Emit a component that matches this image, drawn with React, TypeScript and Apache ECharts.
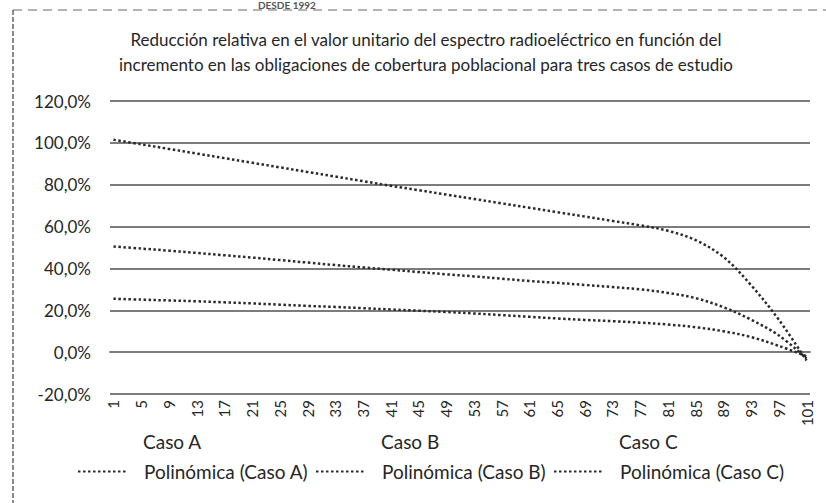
import React, { useEffect, useRef } from "react";
import * as echarts from "echarts";

const TITLE_LINES = [
  "Reducción relativa en el valor unitario del espectro radioeléctrico en función del",
  "incremento en las obligaciones de cobertura poblacional para tres casos de estudio",
];

// categories 1..101
const categories: string[] = Array.from({ length: 101 }, (_, i) => String(i + 1));

// points at the labelled categories
const readAt: number[] = [1, 5, 9, 13, 17, 21, 25, 29, 33, 37, 41, 45, 49, 53, 57, 61, 65, 69, 73, 77, 81, 85, 89, 93, 97, 101];

const polyA: number[] = [101.5, 99.3, 97.1, 94.9, 92.7, 90.5, 88.3, 86.1, 83.9, 81.7, 79.5, 77.4, 75.3, 73.2, 71.1, 69.0, 66.9, 64.8, 62.7, 60.6, 58.0, 53.5, 45.5, 32.0, 15.5, -4.0];
const polyB: number[] = [50.5, 49.5, 48.5, 47.4, 46.3, 45.2, 44.0, 42.8, 41.6, 40.5, 39.4, 38.3, 37.2, 36.2, 35.1, 34.0, 33.1, 32.1, 31.1, 30.0, 28.3, 25.8, 21.5, 15.5, 8.0, -3.0];
const polyC: number[] = [25.5, 25.1, 24.7, 24.3, 23.8, 23.3, 22.7, 22.1, 21.6, 21.0, 20.4, 19.8, 19.2, 18.5, 17.7, 16.9, 16.1, 15.4, 14.8, 14.1, 13.2, 11.9, 10.0, 7.2, 3.0, -2.0];

const caseNames = ["Caso A", "Caso B", "Caso C"];
const trendNames = ["Polinómica (Caso A)", "Polinómica (Caso B)", "Polinómica (Caso C)"];

const FONT = "Lato, 'Open Sans', sans-serif";
const TEXT = "#262626";
const GRIDC = "#7c7c7c";
const DOT = "#2a2a2a";

export default function App() {
  const ref = useRef<HTMLDivElement>(null);
  useEffect(() => {
    if (!ref.current) return;
    const chart = echarts.init(ref.current, undefined, { renderer: "svg" });
    const trendValues = [polyA, polyB, polyC];
    const dotted = { color: DOT, width: 2.5, type: [2.5, 2.5] as number[], cap: "butt" as const };

    const series: any[] = [];
    caseNames.forEach((n) => {
      series.push({ name: n, type: "line", data: [], symbol: "none", lineStyle: { width: 0 } });
    });
    trendNames.forEach((n, k) => {
      series.push({
        name: n,
        type: "line",
        smooth: 0.35,
        symbol: "none",
        color: DOT,
        lineStyle: dotted,
        data: readAt.map((c, i) => [String(c), trendValues[k][i]]),
        z: 3,
      });
    });

    const starts = [143, 381, 619];
    const legends: any[] = [];
    caseNames.forEach((n, i) => {
      legends.push({
        data: [{ name: n, icon: "none" }],
        left: starts[i] - 5,
        top: 432,
        padding: 0,
        itemWidth: 0,
        itemHeight: 14,
        selectedMode: false,
        textStyle: { fontFamily: FONT, fontSize: 19, color: TEXT },
      });
    });
    trendNames.forEach((n, i) => {
      legends.push({
        data: [n],
        left: starts[i] - 66,
        top: 462,
        padding: 0,
        itemWidth: 50,
        itemHeight: 14,
        selectedMode: false,
        itemStyle: { color: "rgba(0,0,0,0)", borderColor: "rgba(0,0,0,0)", borderWidth: 0 },
        formatter: (name: string) => "{g|}" + name,
        textStyle: {
          fontFamily: FONT,
          fontSize: 19,
          color: TEXT,
          rich: { g: { width: 11 } },
        },
      });
    });

    chart.setOption({
      animation: false,
      backgroundColor: "#ffffff",
      title: {
        text: TITLE_LINES.join("\n"),
        left: "426",
        textAlign: "center",
        top: 27,
        padding: 0,
        textStyle: {
          fontFamily: FONT,
          fontSize: 17,
          fontWeight: "normal",
          color: TEXT,
          lineHeight: 25,
        },
      },
      legend: legends,
      grid: { left: 110, right: 16, top: 101, bottom: 109, containLabel: false },
      xAxis: {
        type: "category",
        data: categories,
        boundaryGap: true,
        axisLine: { show: true, onZero: true, lineStyle: { color: GRIDC, width: 2 } },
        axisTick: { show: false },
        axisLabel: {
          interval: 3,
          rotate: 90,
          margin: 6,
          fontFamily: FONT,
          fontSize: 15,
          color: TEXT,
        },
        splitLine: { show: false },
      },
      yAxis: {
        type: "value",
        min: -20,
        max: 120,
        interval: 20,
        axisLine: { show: false },
        axisTick: { show: false },
        axisLabel: {
          margin: 19,
          fontFamily: FONT,
          fontSize: 17,
          color: TEXT,
          formatter: (v: number) => v.toFixed(1).replace(".", ",") + "%",
        },
        splitLine: { show: true, lineStyle: { color: GRIDC, width: 2 } },
      },
      graphic: [
        {
          type: "line",
          shape: { x1: 13, y1: 10, x2: 826, y2: 10 },
          style: { stroke: "#9a9a9a", lineWidth: 1.5, lineDash: [9, 6] },
          silent: true,
        },
        {
          type: "line",
          shape: { x1: 13, y1: 10, x2: 13, y2: 503 },
          style: { stroke: "#666", lineWidth: 1.5, lineDash: [5, 2] },
          silent: true,
        },
        {
          type: "text",
          left: 258,
          top: 0,
          style: {
            text: "DESDE 1992",
            fontFamily: FONT,
            fontSize: 10,
            fontWeight: "bold",
            fill: "#555",
          },
          silent: true,
        },
      ],
      series,
    });
    return () => chart.dispose();
  }, []);
  return <div ref={ref} style={{ width: 826, height: 503, position: "absolute", left: 0, top: 0 }} />;
}
